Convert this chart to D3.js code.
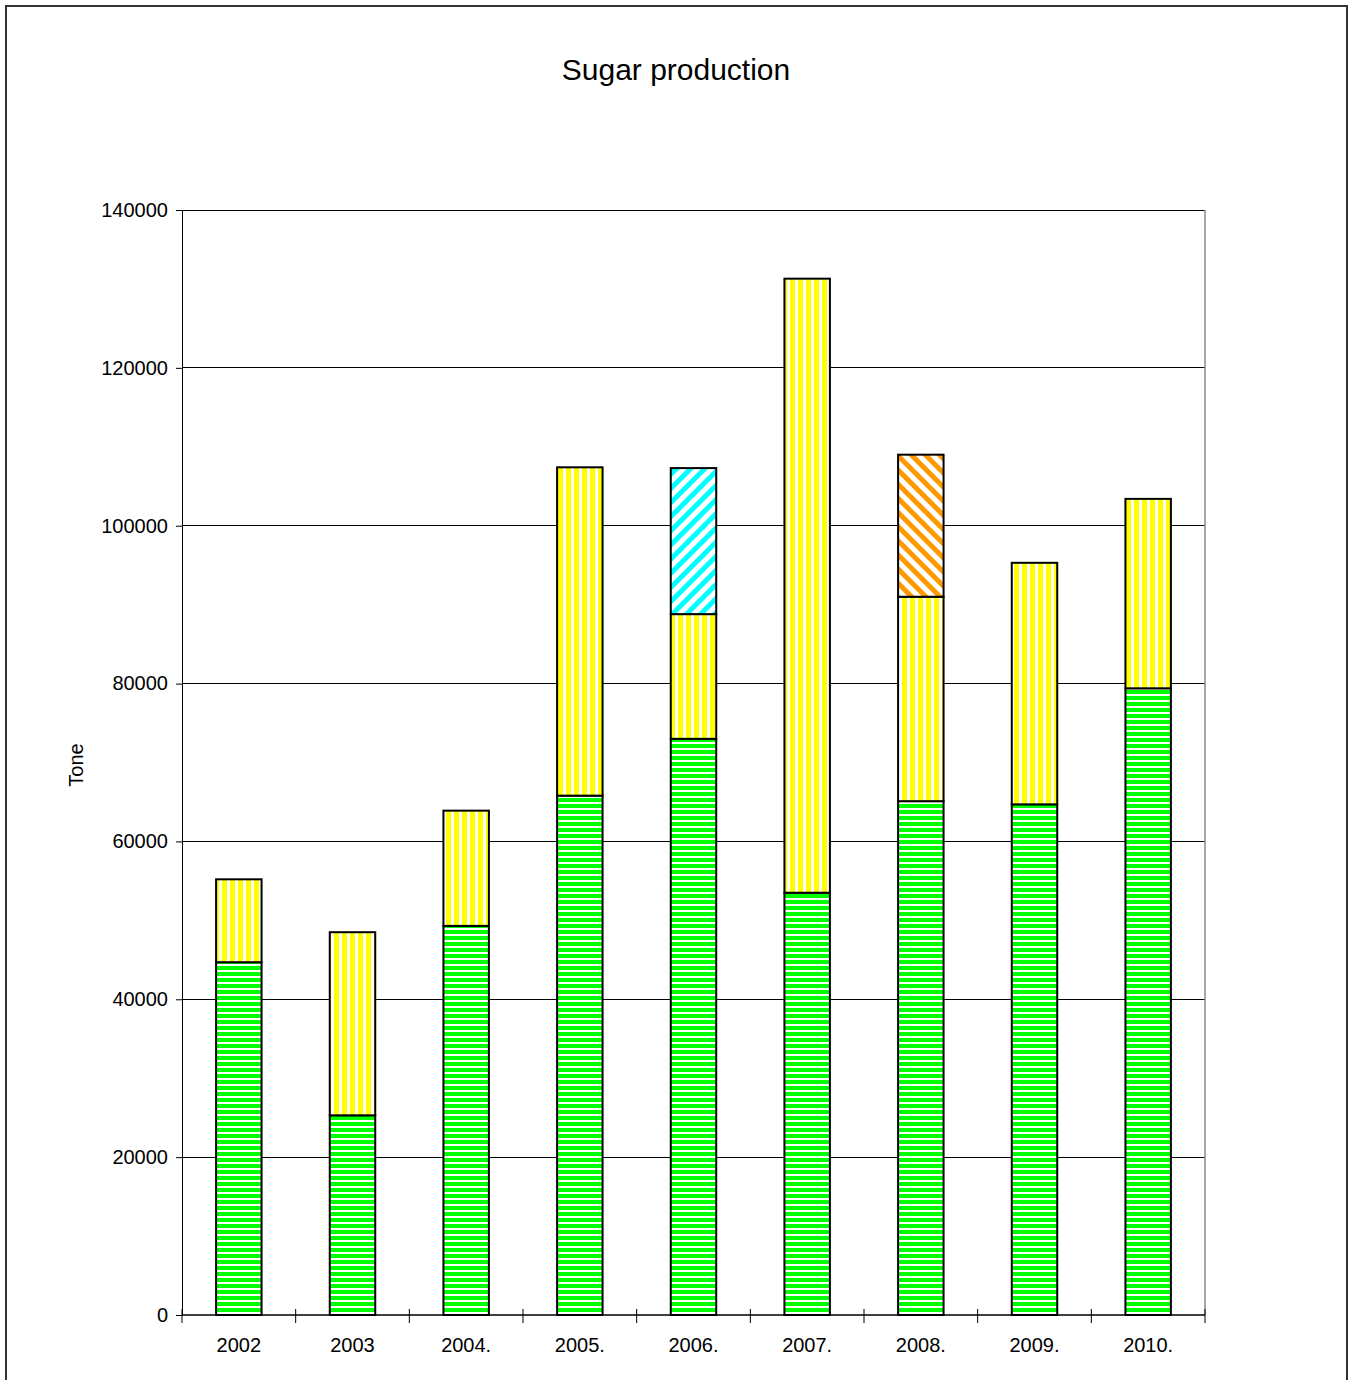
<!DOCTYPE html>
<html>
<head>
<meta charset="utf-8">
<script src="https://cdn.jsdelivr.net/npm/d3@7"></script>
<style>
  body { margin: 0; background: #fff; }
  text { font-family: "Liberation Sans", Arial, sans-serif; }
</style>
</head>
<body>
<div id="chart"></div>
<script>
// Years and stacked series (tonnes)
const years = ["2002", "2003", "2004.", "2005.", "2006.", "2007.", "2008.", "2009.", "2010."];
const green = [44700, 25300, 49300, 65800, 73000, 53500, 65100, 64700, 79400];
const yellow = [10500, 23200, 14600, 41600, 15800, 77800, 25900, 30600, 24000];
const cyan = [0, 0, 0, 0, 18500, 0, 0, 0, 0];
const orange = [0, 0, 0, 0, 0, 0, 18000, 0, 0];
const yTicks = [0, 20000, 40000, 60000, 80000, 100000, 120000, 140000];

const width = 1350, height = 1380;
const margin = { top: 210, right: 145, bottom: 65, left: 182 };
const innerW = width - margin.left - margin.right;
const innerH = height - margin.top - margin.bottom;

const svg = d3.select("#chart").append("svg")
    .attr("width", width)
    .attr("height", height);

// fill patterns
const defs = svg.append("defs");
function stripe(id, w, h, color, draw) {
    const p = defs.append("pattern")
        .attr("id", id)
        .attr("patternUnits", "userSpaceOnUse")
        .attr("width", w).attr("height", h);
    p.append("rect").attr("width", w).attr("height", h).attr("fill", "#fff");
    draw(p, color);
}
stripe("pGreen", 6, 6, "#00ff00", (p, c) =>
    p.append("rect").attr("width", 6).attr("height", 4).attr("fill", c));
stripe("pYellow", 8, 8, "#ffff00", (p, c) =>
    p.append("rect").attr("width", 5).attr("height", 8).attr("fill", c));
stripe("pCyan", 10, 10, "#00ffff", (p, c) => {
    p.attr("patternTransform", "rotate(45)");
    p.append("rect").attr("width", 5).attr("height", 10).attr("fill", c);
});
stripe("pOrange", 10, 10, "#ff9900", (p, c) => {
    p.attr("patternTransform", "rotate(-45)");
    p.append("rect").attr("width", 5).attr("height", 10).attr("fill", c);
});

// outer frame
svg.append("rect")
    .attr("x", 6).attr("y", 6)
    .attr("width", 1341).attr("height", 1400)
    .attr("fill", "none")
    .attr("stroke", "#333")
    .attr("stroke-width", 2);

svg.append("text")
    .attr("x", 676).attr("y", 80)
    .attr("text-anchor", "middle")
    .attr("font-size", 30)
    .text("Sugar production");

const g = svg.append("g").attr("transform", `translate(${margin.left},${margin.top})`);

const x = d3.scaleBand().domain(years).range([0, innerW]).paddingInner(0.6).paddingOuter(0.3);
const y = d3.scaleLinear().domain([0, 140000]).range([innerH, 0]);

// gridlines
g.selectAll(".grid")
    .data(yTicks.filter(d => d > 0))
    .enter().append("line")
    .attr("x1", 0).attr("x2", innerW)
    .attr("y1", d => y(d)).attr("y2", d => y(d))
    .attr("stroke", "#000")
    .attr("stroke-width", 1)
    .attr("shape-rendering", "crispEdges");

// plot area right border
g.append("line")
    .attr("x1", innerW).attr("x2", innerW)
    .attr("y1", 0).attr("y2", innerH)
    .attr("stroke", "#888")
    .attr("stroke-width", 1.5);

// stacked bars
const keys = ["green", "yellow", "cyan", "orange"];
const fills = { green: "url(#pGreen)", yellow: "url(#pYellow)", cyan: "url(#pCyan)", orange: "url(#pOrange)" };
const rows = years.map((yr, i) => ({ year: yr, green: green[i], yellow: yellow[i], cyan: cyan[i], orange: orange[i] }));
const stacked = d3.stack().keys(keys)(rows);

stacked.forEach(layer => {
    g.selectAll(".seg-" + layer.key)
        .data(layer.filter(d => d[1] - d[0] > 0))
        .enter().append("rect")
        .attr("x", d => x(d.data.year))
        .attr("y", d => y(d[1]))
        .attr("width", x.bandwidth())
        .attr("height", d => y(d[0]) - y(d[1]))
        .attr("fill", fills[layer.key])
        .attr("stroke", "#000")
        .attr("stroke-width", 2);
});

// y axis
const yAxis = g.append("g")
    .call(d3.axisLeft(y).tickValues(yTicks).tickSize(6).tickPadding(8).tickFormat(d3.format("d")));
yAxis.selectAll("text").attr("font-size", 20).attr("fill", "#000").style("font-family", "'Liberation Sans', Arial, sans-serif");
yAxis.selectAll("line, path").attr("stroke", "#000");

// x axis with separator ticks between categories
const xAxis = g.append("g").attr("transform", `translate(0,${innerH})`);
xAxis.append("line").attr("x1", 0).attr("x2", innerW).attr("stroke", "#000").attr("stroke-width", 1.5);
const step = x.step();
xAxis.selectAll(".sep")
    .data(d3.range(years.length + 1))
    .enter().append("line")
    .attr("x1", i => i * step).attr("x2", i => i * step)
    .attr("y1", -6).attr("y2", 8)
    .attr("stroke", "#000");
xAxis.selectAll(".lbl")
    .data(years)
    .enter().append("text")
    .attr("x", d => x(d) + x.bandwidth() / 2)
    .attr("y", 37)
    .attr("text-anchor", "middle")
    .attr("font-size", 20)
    .text(d => d);

svg.append("text")
    .attr("transform", "translate(83,765) rotate(-90)")
    .attr("text-anchor", "middle")
    .attr("font-size", 20)
    .text("Tone");
</script>
</body>
</html>
